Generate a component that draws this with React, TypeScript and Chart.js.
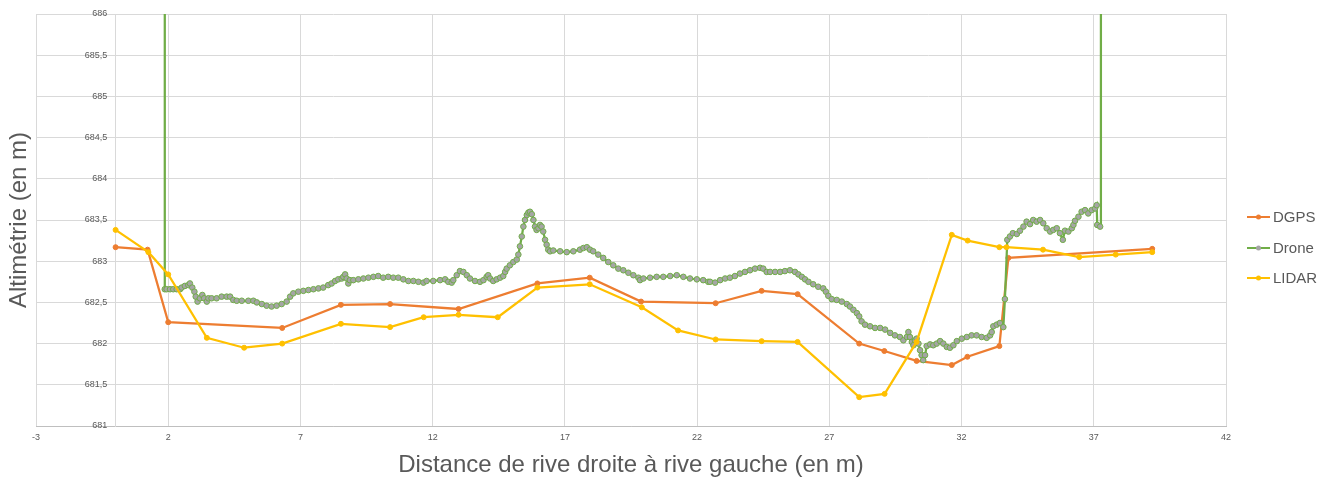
import React, { useEffect, useRef } from 'react';
import { Chart, registerables } from 'chart.js';

Chart.register(...registerables);

// ---- Data ----
const X_TICKS = [-3, 2, 7, 12, 17, 22, 27, 32, 37, 42];
const Y_MIN = 681;
const Y_MAX = 686;
const Y_STEP = 0.5;

const SERIES_NAMES = ['DGPS', 'Drone', 'LIDAR'];
const X_TITLE = 'Distance de rive droite à rive gauche (en m)';
const Y_TITLE = 'Altimétrie (en m)';

const DGPS_X = [0.01, 1.22, 2.0, 6.31, 8.53, 10.39, 12.98, 15.96, 17.94, 19.88, 22.7, 24.44, 25.8, 28.13, 29.08, 30.3, 31.63, 32.22, 33.43, 33.77, 39.21];
const DGPS_Y = [683.17, 683.14, 682.26, 682.19, 682.47, 682.48, 682.42, 682.73, 682.8, 682.51, 682.49, 682.64, 682.6, 682.0, 681.91, 681.79, 681.74, 681.84, 681.97, 683.04, 683.15];

const LIDAR_X = [0.01, 1.25, 2.0, 3.46, 4.87, 6.31, 8.53, 10.39, 11.66, 12.98, 14.46, 15.96, 17.94, 19.91, 21.28, 22.7, 24.44, 25.8, 28.13, 29.09, 30.3, 31.63, 32.23, 33.43, 33.7, 35.08, 36.45, 37.83, 39.21];
const LIDAR_Y = [683.38, 683.11, 682.84, 682.07, 681.95, 682.0, 682.24, 682.2, 682.32, 682.35, 682.32, 682.68, 682.72, 682.44, 682.16, 682.05, 682.03, 682.02, 681.35, 681.39, 682.02, 683.32, 683.25, 683.17, 683.17, 683.14, 683.05, 683.08, 683.11];

const DRONE_X = [
  1.87, 1.87, 1.94, 2.07, 2.19, 2.32, 2.45, 2.51, 2.63, 2.76, 2.82, 2.91, 2.99, 3.04, 3.11, 3.2, 3.29, 3.36, 3.46, 3.52,
  3.64, 3.83, 4.02, 4.21, 4.34, 4.46, 4.59, 4.78, 5.03, 5.22, 5.35, 5.54, 5.72, 5.91, 6.1, 6.29, 6.48, 6.61, 6.73, 6.92,
  7.11, 7.3, 7.49, 7.68, 7.86, 8.05, 8.18, 8.31, 8.43, 8.56, 8.62, 8.69, 8.75, 8.81, 8.87, 9.0, 9.19, 9.38, 9.57, 9.76,
  9.94, 10.13, 10.32, 10.51, 10.7, 10.89, 11.08, 11.27, 11.46, 11.65, 11.77, 12.02, 12.28, 12.47, 12.59, 12.72, 12.78, 12.91, 13.03, 13.16,
  13.29, 13.41, 13.6, 13.79, 13.92, 14.04, 14.1, 14.17, 14.29, 14.42, 14.55, 14.67, 14.74, 14.8, 14.92, 15.05, 15.18, 15.24, 15.3, 15.37,
  15.43, 15.49, 15.56, 15.62, 15.68, 15.75, 15.81, 15.87, 15.93, 16.0, 16.06, 16.12, 16.18, 16.25, 16.31, 16.37, 16.44, 16.56, 16.82, 17.07,
  17.32, 17.57, 17.7, 17.83, 17.95, 18.07, 18.26, 18.45, 18.64, 18.83, 19.02, 19.21, 19.4, 19.59, 19.78, 19.84, 19.97, 20.22, 20.47, 20.72,
  20.98, 21.23, 21.48, 21.73, 21.99, 22.23, 22.42, 22.49, 22.68, 22.87, 23.06, 23.24, 23.43, 23.62, 23.81, 24.0, 24.19, 24.38, 24.5, 24.63,
  24.76, 24.95, 25.14, 25.32, 25.51, 25.7, 25.83, 25.96, 26.08, 26.21, 26.39, 26.58, 26.77, 26.87, 26.96, 27.09, 27.28, 27.47, 27.66, 27.78,
  27.91, 28.04, 28.13, 28.22, 28.35, 28.54, 28.73, 28.92, 29.11, 29.3, 29.48, 29.67, 29.8, 29.93, 29.99, 30.05, 30.12, 30.18, 30.24, 30.3,
  30.37, 30.43, 30.49, 30.55, 30.62, 30.68, 30.81, 30.93, 31.06, 31.19, 31.31, 31.44, 31.56, 31.69, 31.82, 32.01, 32.2, 32.38, 32.57, 32.76,
  32.95, 33.08, 33.14, 33.2, 33.33, 33.45, 33.58, 33.64, 33.73, 33.83, 33.94, 34.09, 34.21, 34.34, 34.46, 34.59, 34.71, 34.84, 34.97, 35.09,
  35.22, 35.35, 35.47, 35.6, 35.72, 35.83, 35.91, 36.04, 36.17, 36.23, 36.29, 36.42, 36.54, 36.67, 36.79, 36.92, 37.05, 37.11, 37.13, 37.24,
  37.27
];
const DRONE_Y = [
  690, 682.66, 682.66, 682.66, 682.66, 682.66, 682.66, 682.68, 682.7, 682.71, 682.73, 682.68, 682.63, 682.57, 682.51, 682.55, 682.59, 682.55, 682.51, 682.55,
  682.55, 682.55, 682.57, 682.57, 682.57, 682.53, 682.52, 682.52, 682.52, 682.52, 682.5, 682.48, 682.46, 682.45, 682.46, 682.48, 682.51, 682.57, 682.61, 682.63,
  682.64, 682.65, 682.66, 682.67, 682.68, 682.71, 682.73, 682.76, 682.78, 682.79, 682.81, 682.84, 682.79, 682.73, 682.77, 682.77, 682.78, 682.79, 682.8, 682.81,
  682.82, 682.8, 682.81, 682.8, 682.8, 682.78, 682.76, 682.76, 682.75, 682.74, 682.76, 682.76, 682.77, 682.78, 682.75, 682.74, 682.77, 682.83, 682.88, 682.87,
  682.83, 682.79, 682.76, 682.75, 682.77, 682.81, 682.83, 682.79, 682.76, 682.78, 682.8, 682.82, 682.87, 682.91, 682.95, 682.99, 683.02, 683.08, 683.18, 683.3,
  683.42, 683.5, 683.56, 683.59, 683.6, 683.57, 683.5, 683.42, 683.38, 683.4, 683.44, 683.42, 683.36, 683.26, 683.2, 683.14, 683.12, 683.13, 683.12, 683.11,
  683.12, 683.14, 683.16, 683.17, 683.14, 683.12, 683.08, 683.04, 682.99, 682.95, 682.91, 682.89, 682.86, 682.83, 682.8, 682.77, 682.79, 682.8, 682.81, 682.81,
  682.82, 682.83, 682.81, 682.79, 682.78, 682.77, 682.75, 682.75, 682.74, 682.77, 682.79, 682.8, 682.82, 682.85, 682.87, 682.89, 682.91, 682.92, 682.91, 682.87,
  682.87, 682.87, 682.87, 682.88, 682.89, 682.87, 682.84, 682.81, 682.78, 682.75, 682.72, 682.69, 682.67, 682.63, 682.58, 682.54, 682.53, 682.51, 682.48, 682.45,
  682.41, 682.37, 682.33, 682.27, 682.23, 682.21, 682.19, 682.19, 682.17, 682.13, 682.1, 682.08, 682.04, 682.08, 682.14, 682.08, 682.02, 681.98, 682.04, 682.06,
  682.0, 681.92, 681.86, 681.8, 681.86, 681.97, 681.99, 681.98, 682.0, 682.03, 682.0, 681.96, 681.95, 681.98, 682.03, 682.06, 682.08, 682.1, 682.1, 682.08,
  682.07, 682.1, 682.14, 682.21, 682.23, 682.25, 682.2, 682.54, 683.26, 683.3, 683.34, 683.33, 683.37, 683.42, 683.48, 683.45, 683.5, 683.48, 683.5, 683.46,
  683.4, 683.36, 683.38, 683.4, 683.34, 683.26, 683.37, 683.36, 683.4, 683.44, 683.49, 683.54, 683.6, 683.62, 683.58, 683.62, 683.64, 683.68, 683.44, 683.42,
  690
];

const COLORS = {
  DGPS: '#ed7d31',
  Drone: '#70ad47',
  DroneMarker: '#a5a5a5',
  LIDAR: '#ffc000',
  text: '#595959',
  grid: '#d9d9d9',
  axis: '#bfbfbf',
};

const Y_LABEL_GAP = 8;

function toPoints(xs: number[], ys: number[]) {
  return xs.map((x, i) => ({ x, y: ys[i] }));
}

// Shift the y tick labels (axis crossing at x = 0) a little left of the axis line.
const yLabelGapPlugin = {
  id: 'yLabelGap',
  beforeDraw(chart: any) {
    const scale = chart.scales.y;
    if (!scale || !scale.getLabelItems) return;
    const items = scale.getLabelItems();
    items.forEach((it: any) => {
      if (!it._shifted && it.options && it.options.translation) {
        it.options.translation[0] -= Y_LABEL_GAP;
        it._shifted = true;
      }
    });
  },
};

const overlayPlugin = {
  id: 'overlay',
  afterDraw(chart: any) {
    const { ctx, chartArea } = chart;
    ctx.save();
    ctx.fillStyle = COLORS.text;
    ctx.font = '24px "Liberation Sans", Arial, sans-serif';
    ctx.textAlign = 'center';
    ctx.textBaseline = 'middle';
    ctx.fillText(X_TITLE, (chartArea.left + chartArea.right) / 2, 465);
    ctx.save();
    ctx.translate(19, (chartArea.top + chartArea.bottom) / 2);
    ctx.rotate(-Math.PI / 2);
    ctx.fillText(Y_TITLE, 0, 0);
    ctx.restore();

    // legend
    const legendYs = [217, 248, 278];
    const x0 = 1247;
    const x1 = 1270;
    ctx.font = '15px "Liberation Sans", Arial, sans-serif';
    ctx.textAlign = 'left';
    chart.data.datasets.forEach((ds: any, i: number) => {
      const y = legendYs[i];
      ctx.strokeStyle = ds.borderColor;
      ctx.lineWidth = 2;
      ctx.beginPath();
      ctx.moveTo(x0, y);
      ctx.lineTo(x1, y);
      ctx.stroke();
      ctx.beginPath();
      ctx.arc((x0 + x1) / 2, y, 2.5, 0, Math.PI * 2);
      ctx.fillStyle = ds.pointBackgroundColor;
      ctx.fill();
      ctx.fillStyle = COLORS.text;
      ctx.fillText(ds.label, 1273, y + 1);
    });
    ctx.restore();
  },
};

export default function App() {
  const canvasRef = useRef<HTMLCanvasElement | null>(null);

  useEffect(() => {
    if (!canvasRef.current) return;
    const tickFont = { family: '"Liberation Sans", Arial, sans-serif', size: 9 };
    const chart = new Chart(canvasRef.current, {
      type: 'scatter',
      data: {
        datasets: [
          {
            label: SERIES_NAMES[0],
            data: toPoints(DGPS_X, DGPS_Y),
            showLine: true,
            borderColor: COLORS.DGPS,
            backgroundColor: COLORS.DGPS,
            pointBackgroundColor: COLORS.DGPS,
            pointBorderColor: COLORS.DGPS,
            borderWidth: 2.25,
            pointRadius: 2.5,
            pointBorderWidth: 1,
            order: 3,
          },
          {
            label: SERIES_NAMES[1],
            data: toPoints(DRONE_X, DRONE_Y),
            showLine: true,
            borderColor: COLORS.Drone,
            backgroundColor: COLORS.Drone,
            pointBackgroundColor: COLORS.DroneMarker,
            pointBorderColor: COLORS.Drone,
            borderWidth: 2.25,
            pointRadius: 2.8,
            pointBorderWidth: 1,
            order: 2,
          },
          {
            label: SERIES_NAMES[2],
            data: toPoints(LIDAR_X, LIDAR_Y),
            showLine: true,
            borderColor: COLORS.LIDAR,
            backgroundColor: COLORS.LIDAR,
            pointBackgroundColor: COLORS.LIDAR,
            pointBorderColor: COLORS.LIDAR,
            borderWidth: 2.25,
            pointRadius: 2.5,
            pointBorderWidth: 1,
            order: 1,
          },
        ],
      },
      options: {
        responsive: false,
        animation: false,
        devicePixelRatio: 1,
        layout: { padding: { left: 36, right: 113, top: 14, bottom: 0 } },
        plugins: {
          legend: { display: false },
          tooltip: { enabled: false },
        },
        scales: {
          x: {
            type: 'linear',
            min: X_TICKS[0],
            max: X_TICKS[X_TICKS.length - 1],
            afterBuildTicks: (scale: any) => {
              scale.ticks = X_TICKS.map((v) => ({ value: v }));
            },
            afterFit: (scale: any) => {
              scale.height = 58;
              scale.paddingLeft = 0;
              scale.paddingRight = 0;
            },
            grid: { color: COLORS.grid, drawTicks: false, lineWidth: 1 },
            border: { color: COLORS.axis, width: 1 },
            ticks: {
              color: COLORS.text,
              font: tickFont,
              padding: 6,
              maxRotation: 0,
              autoSkip: false,
              callback: (v: any) => String(v),
            },
          },
          y: {
            type: 'linear',
            min: Y_MIN,
            max: Y_MAX,
            position: { x: 0 } as any,
            afterFit: (scale: any) => {
              scale.paddingTop = 0;
              scale.paddingBottom = 0;
            },
            grid: { color: COLORS.grid, drawTicks: false, lineWidth: 1 },
            border: { color: COLORS.grid, width: 1 },
            ticks: {
              stepSize: Y_STEP,
              color: COLORS.text,
              font: tickFont,
              padding: 8,
              callback: (v: any) => String(v).replace('.', ','),
            },
          },
        },
      },
      plugins: [yLabelGapPlugin, overlayPlugin],
    } as any);
    return () => chart.destroy();
  }, []);

  return (
    <div style={{ position: 'fixed', left: 0, top: 0, width: 1339, height: 484, background: '#fff' }}>
      <canvas ref={canvasRef} width={1339} height={484} style={{ display: 'block', width: 1339, height: 484 }} />
    </div>
  );
}
